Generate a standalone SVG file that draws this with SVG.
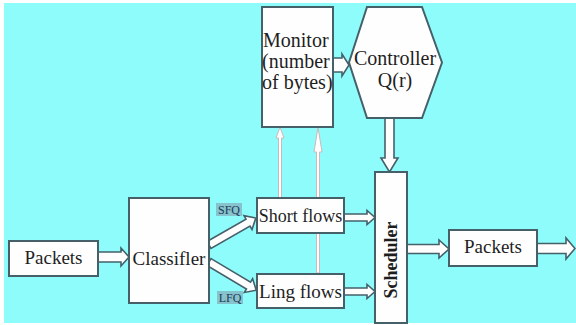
<svg xmlns="http://www.w3.org/2000/svg" width="576" height="325" viewBox="0 0 576 325">
<style>
.box{fill:#fefefe;stroke:#46606a;stroke-width:2}
.blk{fill:#fefefe;stroke:#46606a;stroke-width:1.6;stroke-linejoin:miter}
.thin{fill:#fefefe;stroke:#cdb9b9;stroke-width:1}
.t{font-family:'Liberation Serif','Times New Roman',serif;fill:#1e1e1e}
.lbl{font-family:'Liberation Serif','Times New Roman',serif;font-size:12px;fill:#1f3a58}
.hl{fill:#86c3cc}
</style>
<rect x="0" y="0" width="576" height="325" fill="#ffffff"/>
<rect x="4" y="3" width="572" height="320" fill="#8ffcfc"/>
<g id="connectors">
  <path class="thin" d="M278.5,198 L278.5,138 L276,138 L280,127 L284,138 L281.5,138 L281.5,198 Z"/>
  <path class="thin" d="M316.5,273 L316.5,152 L314,152 L318,127 L322,152 L319.5,152 L319.5,273 Z"/>
  <path class="blk" d="M98,252 L121,252 L121,248 L129,257 L121,266 L121,262 L98,262 Z"/>
  <path class="blk" transform="translate(209,245) rotate(-29.9)" d="M0,-4 L45,-4 L45,-8 L54,0 L45,8 L45,4 L0,4 Z"/>
  <path class="blk" transform="translate(209,262) rotate(30.8)" d="M0,-4 L46,-4 L46,-8 L55,0 L46,8 L46,4 L0,4 Z"/>
  <path class="blk" d="M344,214 L367,214 L367,210.5 L375,217.5 L367,224.5 L367,221 L344,221 Z"/>
  <path class="blk" d="M344,288 L367,288 L367,284.5 L375,291.5 L367,298.5 L367,295 L344,295 Z"/>
  <path class="blk" d="M333,58 L342,58 L342,54 L349,65 L342,76 L342,72 L333,72 Z"/>
  <path class="blk" d="M385,118 L394,118 L394,158 L398,158 L389.5,172 L381,158 L385,158 Z"/>
  <path class="blk" d="M407,244.5 L439,244.5 L439,240 L449,249 L439,258 L439,253.5 L407,253.5 Z"/>
  <path class="blk" d="M537,243.5 L566,243.5 L566,238 L575,248.5 L566,259 L566,253.5 L537,253.5 Z"/>
</g>
<g id="packets-in">
  <rect class="box" x="9" y="241" width="89" height="35"/>
  <text class="t" x="53.5" y="264" font-size="19" text-anchor="middle">Packets</text>
</g>
<g id="classifier">
  <rect class="box" x="129" y="198" width="80" height="105"/>
  <text class="t" x="169" y="265" font-size="19" text-anchor="middle">Classifler</text>
</g>
<g id="sfq-label">
  <rect class="hl" x="216" y="203" width="26" height="13"/>
  <text class="lbl" x="229" y="214" text-anchor="middle">SFQ</text>
</g>
<g id="lfq-label">
  <rect class="hl" x="217" y="291" width="26" height="13"/>
  <text class="lbl" x="230" y="302" text-anchor="middle">LFQ</text>
</g>
<g id="short-flows">
  <rect class="box" x="257" y="198" width="87" height="35"/>
  <text class="t" x="300.5" y="222" font-size="18" text-anchor="middle">Short flows</text>
</g>
<g id="ling-flows">
  <rect class="box" x="257" y="274" width="87" height="34"/>
  <text class="t" x="300.5" y="298" font-size="19" text-anchor="middle">Ling flows</text>
</g>
<g id="monitor">
  <rect class="box" x="262" y="7" width="71" height="120"/>
  <text class="t" font-size="20"><tspan x="263" y="47">Monitor</tspan><tspan x="262" y="68">(number</tspan><tspan x="262" y="89">of bytes)</tspan></text>
</g>
<g id="controller">
  <polygon class="box" points="349,62.5 367,7 422,7 442,62.5 422,118 367,118"/>
  <text class="t" font-size="20" text-anchor="middle"><tspan x="395" y="65">Controller</tspan><tspan x="395" y="87">Q(r)</tspan></text>
</g>
<g id="scheduler">
  <rect class="box" x="375" y="172" width="32" height="151"/>
  <text class="t" font-size="18" font-weight="bold" text-anchor="middle" transform="translate(397,260) rotate(-90)">Scheduler</text>
</g>
<g id="packets-out">
  <rect class="box" x="449" y="230" width="88" height="36"/>
  <text class="t" x="493" y="253" font-size="19" text-anchor="middle">Packets</text>
</g>
</svg>
